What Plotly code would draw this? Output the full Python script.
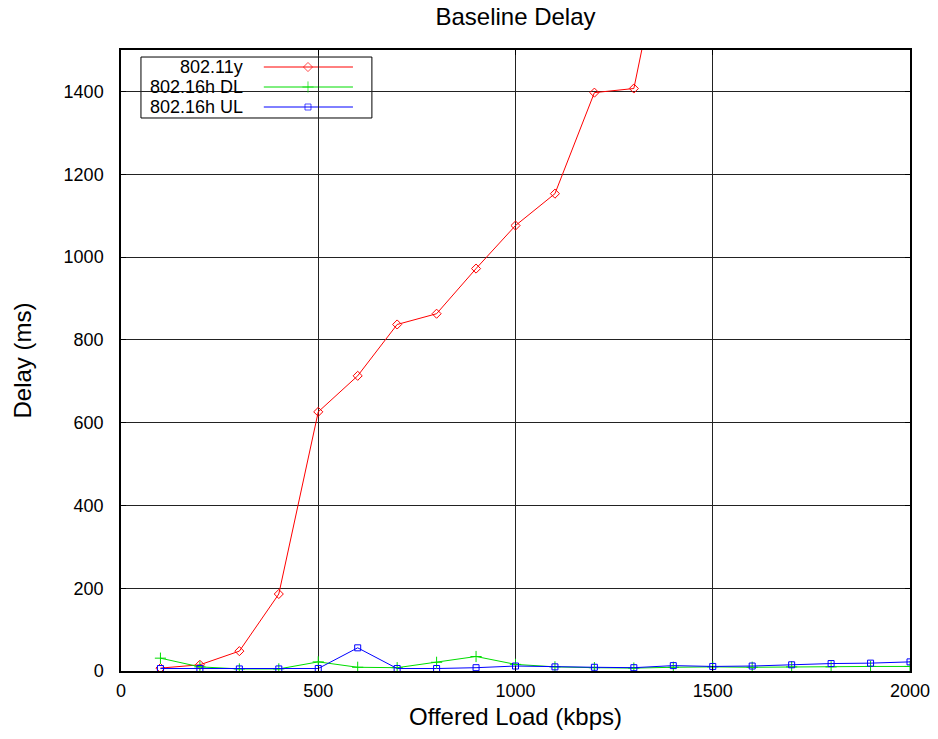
import plotly.graph_objects as go

load = [100, 200, 300, 400, 500, 600, 700, 800, 900, 1000,
        1100, 1200, 1300, 1400, 1500, 1600, 1700, 1800, 1900, 2000]
delay_11y = [7, 15, 48, 186, 626, 713, 837, 863, 972, 1076,
             1153, 1397, 1407, 1870, 2200, 2500, 2800, 3100, 3400, 3700]
delay_16h_dl = [31, 10, 5, 5, 22, 9, 8, 21, 35, 16,
                10, 8, 7, 9, 10, 9, 10, 10, 11, 11]
delay_16h_ul = [6, 6, 5, 5, 6, 56, 6, 6, 8, 12,
                10, 9, 8, 13, 11, 12, 15, 18, 19, 22]

series = [
    ("802.11y", delay_11y, "#ff0000", "diamond-open", 7),
    ("802.16h DL", delay_16h_dl, "#00dd00", "cross-thin-open", 8),
    ("802.16h UL", delay_16h_ul, "#0000ff", "square-open", 6),
]

FONT = "Liberation Sans, Arial, sans-serif"
fig = go.Figure()
for name, vals, col, sym, sz in series:
    fig.add_trace(go.Scatter(
        x=load, y=vals, mode="lines+markers", name=name,
        line=dict(color=col, width=1),
        marker=dict(symbol=sym, size=sz, color=col, line=dict(color=col, width=1)),
        showlegend=False, cliponaxis=True))

# custom legend (gnuplot style: text right-aligned, sample on the right)
shapes = [dict(type="rect", xref="paper", yref="paper", x0=0.0253, x1=0.318,
               y0=0.8905, y1=0.9887, line=dict(color="black", width=1),
               fillcolor="white", layer="between")]
annotations = []
rows = [0.9726, 0.9404, 0.9082]
for (name, vals, col, sym, sz), ry in zip(series, rows):
    shapes.append(dict(type="line", xref="paper", yref="paper", x0=0.181, x1=0.294,
                       y0=ry, y1=ry, line=dict(color=col, width=1), layer="between"))
    annotations.append(dict(xref="paper", yref="paper", x=0.157, y=ry, text=name,
                            showarrow=False, xanchor="right", yanchor="middle",
                            font=dict(family=FONT, size=18, color="black")))
fig.update_layout(shapes=shapes, annotations=annotations)

# legend marker glyphs, drawn on an overlay axis in paper-like coords
fig.add_trace(go.Scatter(
    x=[0.237] * 3, y=rows, mode="markers", xaxis="x2", yaxis="y2",
    marker=dict(symbol=[s[3] for s in series], size=[s[4] for s in series],
                color=[s[2] for s in series],
                line=dict(color=[s[2] for s in series], width=1)),
    showlegend=False, hoverinfo="skip"))

fig.update_layout(
    width=938, height=739,
    margin=dict(l=121, r=28, t=50, b=68),
    paper_bgcolor="white", plot_bgcolor="white",
    font=dict(family=FONT, size=18, color="black"),
    title=dict(text="Baseline Delay", xref="paper", x=0.5, xanchor="center",
               y=0.977, yanchor="middle",
               font=dict(family=FONT, size=24, color="black")),
    xaxis=dict(range=[0, 2000], tickvals=[0, 500, 1000, 1500, 2000],
               showgrid=True, gridcolor="#222222", gridwidth=1, automargin=False,
               showline=True, linecolor="black", linewidth=1.5, mirror="ticks",
               ticks="inside", ticklen=5, tickcolor="black", zeroline=False,
               tickfont=dict(family=FONT, size=18), ticklabelstandoff=3,
               title=dict(text="Offered Load (kbps)", font=dict(family=FONT, size=24),
                          standoff=8)),
    yaxis=dict(range=[0, 1500], tickvals=[0, 200, 400, 600, 800, 1000, 1200, 1400],
               showgrid=True, gridcolor="#222222", gridwidth=1, automargin=False,
               showline=True, linecolor="black", linewidth=1.5, mirror="ticks",
               ticks="inside", ticklen=5, tickcolor="black", zeroline=False,
               tickfont=dict(family=FONT, size=18), ticklabelstandoff=12,
               title=dict(text="Delay (ms)", font=dict(family=FONT, size=24),
                          standoff=25)),
    xaxis2=dict(range=[0, 1], overlaying="x", visible=False, fixedrange=True),
    yaxis2=dict(range=[0, 1], overlaying="y", visible=False, fixedrange=True),
)

fig.write_html("out.html")
